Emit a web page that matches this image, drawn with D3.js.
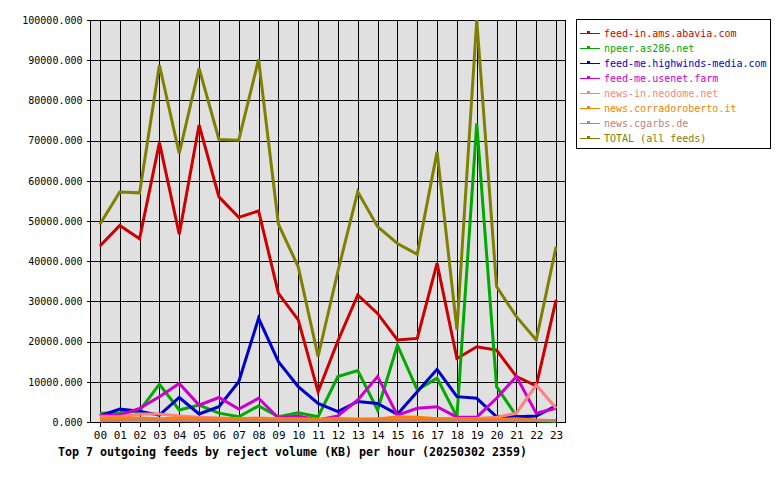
<!DOCTYPE html>
<html><head><meta charset="utf-8">
<script src="https://cdn.jsdelivr.net/npm/d3@7"></script>
<style>
html,body{margin:0;padding:0;background:#fff;}
text{font-family:"DejaVu Sans Mono",monospace;}
</style></head>
<body><svg id="c" width="780" height="480"></svg>
<script>
const hours = ["00","01","02","03","04","05","06","07","08","09","10","11","12","13","14","15","16","17","18","19","20","21","22","23"];
const seriesNames = ["feed-in.ams.abavia.com","npeer.as286.net","feed-me.highwinds-media.com","feed-me.usenet.farm","news-in.neodome.net","news.corradoroberto.it","news.cgarbs.de","TOTAL (all feeds)"];
const seriesColors = ["#cc0000","#00aa00","#0000cc","#cc00cc","#ff8080","#ff8000","#c08080","#808000"];
const abavia = [43800,48900,45600,69500,46700,73900,56000,50900,52500,32000,25400,7500,20200,31600,27000,20400,20800,39500,15800,18700,17900,11300,9000,30400];
const as286 = [2200,2300,2800,9400,3000,4200,2200,1300,4000,1300,2300,1300,11300,12800,3000,19100,8000,10900,1300,74300,8800,1500,300,200];
const highwinds = [1500,3200,2700,1700,6100,2000,3800,10000,25800,15000,8800,4600,2600,5100,4600,1900,7500,13100,6300,5900,1300,1300,1500,4000];
const usenetfarm = [1700,1700,3400,6300,9600,4200,6100,3200,5900,1000,1500,500,1500,5500,11300,1700,3400,3800,1200,1200,5900,11300,2200,3400];
const neodome = [1300,1300,2000,2000,1500,1200,1000,800,1000,800,700,600,800,700,800,800,700,900,800,900,1200,2200,9200,3400];
const corradoroberto = [800,1000,1000,800,1000,900,800,900,900,700,800,700,800,700,700,1300,1200,800,700,600,700,800,500,300];
const cgarbs = [300,400,500,400,400,300,300,400,400,300,300,300,400,400,400,300,400,400,400,400,400,400,400,400];
const total = [49200,57200,57000,88800,66800,88000,70300,70100,90200,49200,38600,16300,37500,57300,48600,44400,41700,67200,22900,100000,33700,26200,20400,43600];
const yTicks = [0,10000,20000,30000,40000,50000,60000,70000,80000,90000,100000];
const titleText = "Top 7 outgoing feeds by reject volume (KB) per hour (20250302 2359)";

const allValues = [abavia,as286,highwinds,usenetfarm,neodome,corradoroberto,cgarbs,total];
const series = seriesNames.map((n,i)=>({name:n,color:seriesColors[i],values:allValues[i]}));

const svg = d3.select("#c");
const L=90,R=566,T=20,B=422;
const x = d3.scalePoint().domain(hours).range([L,R]).padding(0.5);
const y = d3.scaleLinear().domain([0,100000]).range([B,T]);

svg.append("rect").attr("x",L).attr("y",T).attr("width",R-L).attr("height",B-T).attr("fill","#e0e0e0");

// grid
const g = svg.append("g").attr("shape-rendering","crispEdges");
g.selectAll(".hg").data(yTicks).join("line")
 .attr("x1",L).attr("x2",R).attr("y1",d=>Math.round(y(d))+0.5).attr("y2",d=>Math.round(y(d))+0.5)
 .attr("stroke","#000").attr("stroke-width",1);
g.selectAll(".vg").data(hours).join("line")
 .attr("x1",d=>Math.round(x(d))+0.5).attr("x2",d=>Math.round(x(d))+0.5).attr("y1",T).attr("y2",B)
 .attr("stroke","#000").attr("stroke-width",1);
svg.append("rect").attr("x",L+0.5).attr("y",T+0.5).attr("width",R-L-1).attr("height",B-T).attr("fill","none").attr("stroke","#000").attr("shape-rendering","crispEdges");

// axes
const ya = svg.append("g").attr("transform",`translate(${L+0.5},0)`)
 .call(d3.axisLeft(y).tickValues(yTicks).tickFormat(d3.format(".3f")).tickSize(4).tickPadding(4));
ya.select(".domain").remove();
ya.selectAll("line").attr("stroke","#000").attr("shape-rendering","crispEdges");
ya.selectAll("text").attr("font-size","10px").attr("fill","#000").attr("font-family","DejaVu Sans Mono");

const xa = svg.append("g").attr("transform",`translate(0,${B+0.5})`)
 .call(d3.axisBottom(x).tickSize(4).tickPadding(5));
xa.select(".domain").remove();
xa.selectAll("line").attr("stroke","#000").attr("shape-rendering","crispEdges");
xa.selectAll("text").attr("font-size","11px").attr("fill","#000").attr("font-family","DejaVu Sans Mono");

// lines
const line = d3.line().x((d,i)=>x(hours[i])).y(d=>y(d));
svg.append("g").selectAll("path").data(series).join("path")
 .attr("d",d=>line(d.values)).attr("fill","none").attr("stroke",d=>d.color)
 .attr("stroke-width",3).attr("stroke-linejoin","miter");

// title
svg.append("text").attr("x",58).attr("y",456).attr("font-size","11.5px").attr("font-weight","bold")
 .attr("textLength",469).attr("lengthAdjust","spacingAndGlyphs").attr("fill","#000").text(titleText);

// legend
const lg = svg.append("g");
lg.append("rect").attr("x",576.5).attr("y",19.5).attr("width",194).attr("height",129).attr("fill","#fff").attr("stroke","#000").attr("shape-rendering","crispEdges");
const items = lg.selectAll(".it").data(series).join("g").attr("transform",(d,i)=>`translate(0,${33+i*15})`);
items.append("line").attr("x1",580).attr("x2",600).attr("y1",0.5).attr("y2",0.5).attr("stroke",d=>d.color).attr("shape-rendering","crispEdges");
items.append("rect").attr("x",587).attr("y",-2).attr("width",3).attr("height",2).attr("fill",d=>d.color);
items.append("text").attr("x",604).attr("y",4).attr("font-size","10px").attr("fill",d=>d.color).text(d=>d.name);
</script></body></html>
